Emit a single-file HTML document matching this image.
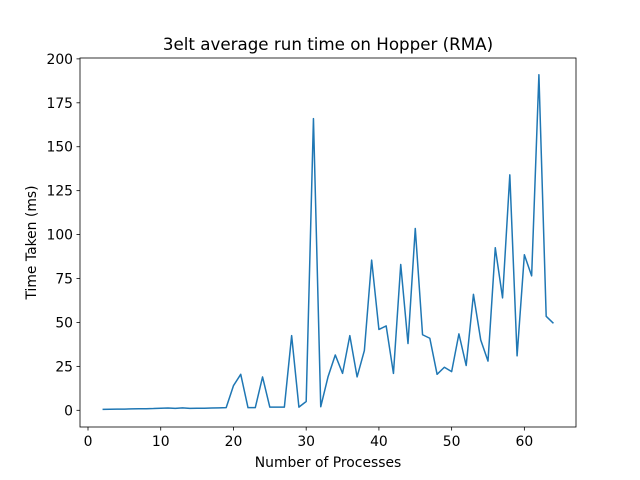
<!DOCTYPE html>
<html><head><meta charset="utf-8"><style>
body{margin:0;background:#fff;}
svg{display:block;font-family:"DejaVu Sans","Liberation Sans",sans-serif;}
</style></head><body>
<svg id="chart" width="640" height="480"></svg>
<script>
const xValues=[2,3,4,5,6,7,8,9,10,11,12,13,14,15,16,17,18,19,20,21,22,23,24,25,26,27,28,29,30,31,32,33,34,35,36,37,38,39,40,41,42,43,44,45,46,47,48,49,50,51,52,53,54,55,56,57,58,59,60,61,62,63,64];
const timeValues=[0.5,0.6,0.7,0.7,0.8,0.9,0.9,1.0,1.2,1.3,1.1,1.4,1.1,1.2,1.2,1.3,1.4,1.5,14,20.5,1.5,1.5,19,1.8,1.8,1.8,42.5,1.8,5,166,2,19,31.5,21,42.5,19,34,85.5,46,48,21,83,38,103.5,43,41,20.5,24.5,22,43.5,25.5,66,40,28,92.5,64,134,31,88.5,76.5,191,53.5,49.5];
const xTicks=[0,10,20,30,40,50,60];
const yTicks=[0,25,50,75,100,125,150,175,200];
const NS="http://www.w3.org/2000/svg";
const svg=document.getElementById('chart');
const L=80,R=576,T=58,B=427;
const xmin=-1.1,xmax=67.1,ymin=-9.5,ymax=200.5;
const xs=v=>L+(v-xmin)/(xmax-xmin)*(R-L);
const ys=v=>B-(v-ymin)/(ymax-ymin)*(B-T);
function mk(tag,attrs,parent){const e=document.createElementNS(NS,tag);for(const k in attrs)e.setAttribute(k,attrs[k]);(parent||svg).appendChild(e);return e;}
const frame=mk('rect',{x:L,y:T,width:R-L,height:B-T,fill:'none',stroke:'#000','stroke-width':0.8});


xTicks.forEach(t=>{const g=mk('g',{});


mk('line',{x1:xs(t),x2:xs(t),y1:B,y2:B+3.5,stroke:'#000','stroke-width':0.8},g);
const tx=mk('text',{x:xs(t),y:B+19,'text-anchor':'middle','font-size':13.9},g);tx.textContent=t;});
yTicks.forEach(t=>{const g=mk('g',{});


mk('line',{x1:L-3.5,x2:L,y1:ys(t),y2:ys(t),stroke:'#000','stroke-width':0.8},g);
const tx=mk('text',{x:L-7,y:ys(t)+5,'text-anchor':'end','font-size':13.9},g);tx.textContent=t;});
const pts=xValues.map((x,i)=>xs(x).toFixed(2)+','+ys(timeValues[i]).toFixed(2)).join(' ');
const line=mk('polyline',{points:pts,fill:'none',stroke:'#1f77b4','stroke-width':1.5,'stroke-linejoin':'round'});


const title=mk('text',{x:(L+R)/2,y:50,'text-anchor':'middle','font-size':16.7});title.textContent='3elt average run time on Hopper (RMA)';


const xl=mk('text',{x:(L+R)/2,y:467,'text-anchor':'middle','font-size':13.9});xl.textContent='Number of Processes';


const yl=mk('text',{x:0,y:0,'text-anchor':'middle','font-size':13.9,transform:`translate(36,${(T+B)/2}) rotate(-90)`});yl.textContent='Time Taken (ms)';


</script>
</body></html>
